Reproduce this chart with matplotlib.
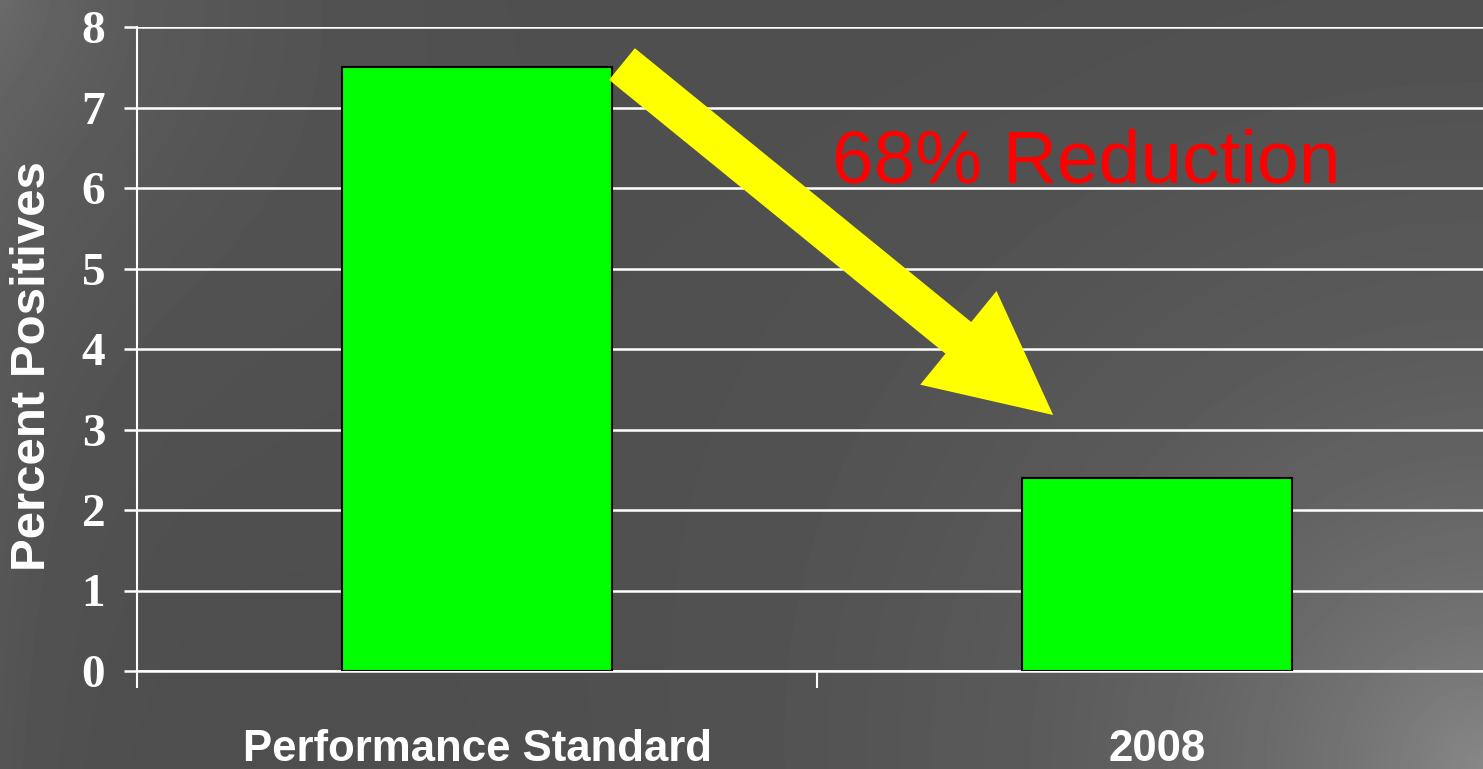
import numpy as np
import matplotlib
matplotlib.use("Agg")
import matplotlib.pyplot as plt

# data
categories = ["Performance Standard", "2008"]
percent_pos = [7.5, 2.4]
y_ticks = [0, 1, 2, 3, 4, 5, 6, 7, 8]
note_text = "68% Reduction"

# arrow / note anchor points (data coords)
arrow_start = (0.213, 7.54)
arrow_tip = (0.847, 3.18)
note_pos = (0.896, 6.07)

W, H = 1483, 769
fig = plt.figure(figsize=(W / 100, H / 100), dpi=100)

# dark gray slide background with lighter corners
bg = fig.add_axes([0, 0, 1, 1], zorder=-10)
yy, xx = np.mgrid[0:H, 0:W]
base = 0.294
tl = 0.09 * np.exp(-np.hypot(xx, yy) / 260.0)
br = 0.24 * np.exp(-np.hypot(xx - W, yy - H) / 330.0)
lft = 0.03 * np.exp(-xx / 80.0)
img = base + tl + br + lft
bg.imshow(img, cmap="gray", vmin=0, vmax=1, aspect="auto", interpolation="bilinear")
bg.axis("off")

ax = fig.add_axes([137 / W, 1 - 671 / H, 1 - 137 / W, (671 - 27) / H])
ax.set_facecolor("none")

x = np.arange(len(categories))
ax.bar(x, percent_pos, width=0.397, color="#00ff00", edgecolor="black", linewidth=1.5, zorder=3)

# grid lines + ticks
ax.set_yticks(y_ticks)
ax.yaxis.grid(True, color="white", linewidth=1.8, zorder=1)
ax.set_axisbelow(True)
for s in ["top", "right"]:
    ax.spines[s].set_visible(False)
ax.spines["left"].set_color("white")
ax.spines["left"].set_linewidth(1.5)
ax.spines["bottom"].set_color("white")
ax.spines["bottom"].set_linewidth(1.8)

ax.tick_params(axis="y", direction="out", length=9.4, width=1.8, color="white", pad=13.5)
for lab in ax.get_yticklabels():
    lab.set_fontfamily("Liberation Serif")
    lab.set_fontweight("bold")
    lab.set_fontsize(34)
    lab.set_color("white")

ax.set_xticks(x)
ax.set_xticklabels(categories, fontfamily="Liberation Sans", fontweight="bold",
                   fontsize=31.5, color="white")
ax.tick_params(axis="x", which="major", length=0, pad=41.5)
ax.set_xticks([-0.5, 0.5, 1.5], minor=True)
ax.tick_params(axis="x", which="minor", direction="out", length=12.5, width=1.5, color="white")

# limits after ticks (set_xticks would widen them)
ax.set_xlim(-0.5, 1.479)
ax.set_ylim(0, 8)

fig.text(33 / W, 1 - 366 / H, "Percent Positives", rotation=90, ha="center", va="center",
         fontfamily="Liberation Sans", fontweight="bold", fontsize=35.5, color="white")

ax.annotate("", xy=arrow_tip, xytext=arrow_start,
            arrowprops=dict(arrowstyle="simple,head_length=4.4,head_width=4.35,tail_width=1.47",
                            mutation_scale=20, fc="#ffff00", ec="none",
                            shrinkA=0, shrinkB=0),
            zorder=5)

ax.text(note_pos[0], note_pos[1], note_text, ha="center", va="baseline",
        fontfamily="Liberation Sans", fontsize=54, color="#ff0000", zorder=6)

fig.savefig("out.png", dpi=100)
